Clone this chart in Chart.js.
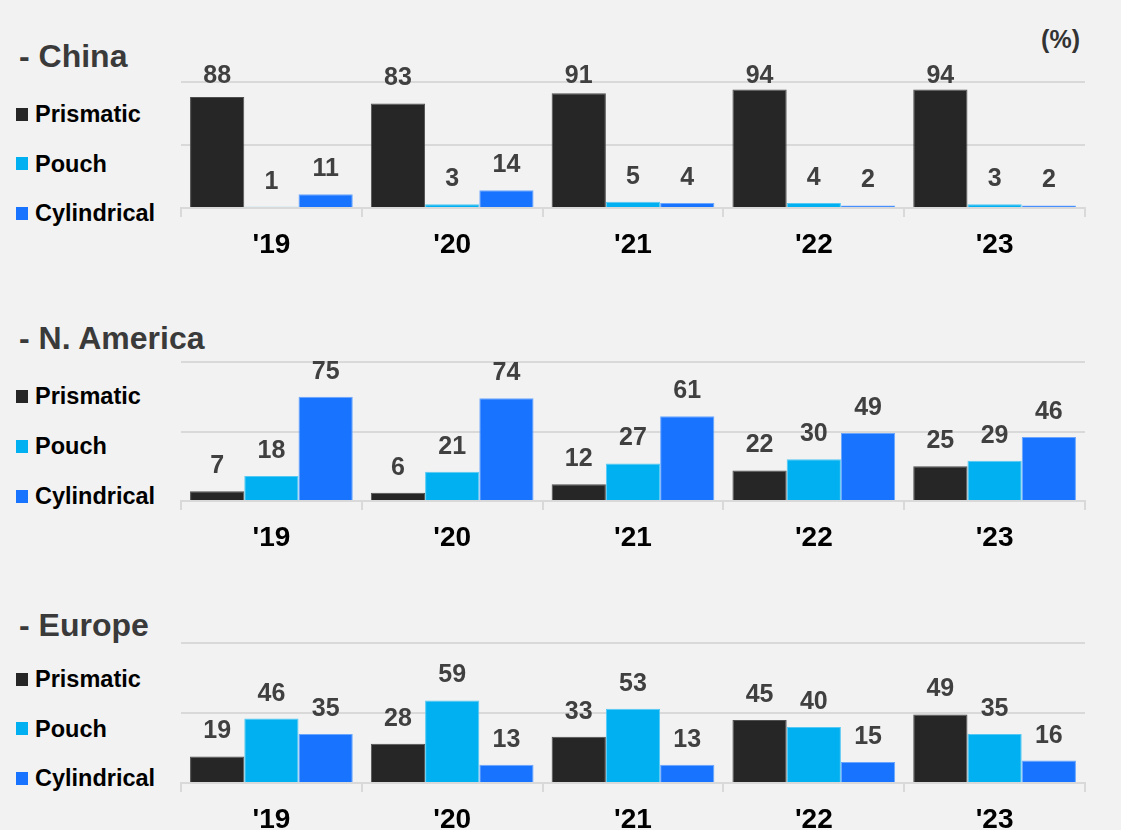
<!DOCTYPE html>
<html>
<head>
<meta charset="utf-8">
<title>Battery cell format share by region</title>
<script src="https://cdn.jsdelivr.net/npm/chart.js@4.4.1/dist/chart.umd.min.js"></script>
<style>
  body { margin: 0; background: #fff; font-family: 'Liberation Sans', Arial, sans-serif; }
  #board { position: relative; width: 1121px; height: 830px; background: #f2f2f2; overflow: hidden; }
  #board canvas { position: absolute; left: 0; }
  .title { position: absolute; left: 19px; font-size: 32px; font-weight: bold; color: #3a3a3a; white-space: pre; }
  .unit { position: absolute; right: 41px; top: 25px; font-size: 25px; font-weight: bold; color: #333; }
  .legend-row { position: absolute; left: 16px; height: 30px; display: flex; align-items: center; }
  .legend-row .box { width: 12px; height: 13px; margin-right: 7px; }
  .legend-row .txt { font-size: 23.5px; font-weight: bold; color: #000; line-height: 30px; }
</style>
</head>
<body>
<div id="board">
  <div class="unit">(%)</div>
</div>
<script>
// categories and series
const years = ["'19", "'20", "'21", "'22", "'23"];
const seriesNames = ['Prismatic', 'Pouch', 'Cylindrical'];

// share by cell format, %
const chinaPrismatic = [88, 83, 91, 94, 94];
const chinaPouch = [1, 3, 5, 4, 3];
const chinaCylindrical = [11, 14, 4, 2, 2];

const naPrismatic = [7, 6, 12, 22, 25];
const naPouch = [18, 21, 27, 30, 29];
const naCylindrical = [75, 74, 61, 49, 46];

const euPrismatic = [19, 28, 33, 45, 49];
const euPouch = [46, 59, 53, 40, 35];
const euCylindrical = [35, 13, 13, 15, 16];

const seriesColors = ['#262626', '#00b0f0', '#1874ff'];
const seriesEdges = ['#4f4f4f', '#55c9f4', '#6aa6ff'];

// one block per region: canvas placement and plot area inside it
const panels = [
  { title: '- China', data: [chinaPrismatic, chinaPouch, chinaCylindrical],
    top: 0, height: 280, areaTop: 82, areaBottom: 208, titleTop: 38,
    legendY: [114, 163.5, 213], labelFloor: 83 },
  { title: '- N. America', data: [naPrismatic, naPouch, naCylindrical],
    top: 290, height: 280, areaTop: 72, areaBottom: 211, titleTop: 320,
    legendY: [396, 446, 496], labelFloor: 0 },
  { title: '- Europe', data: [euPrismatic, euPouch, euCylindrical],
    top: 570, height: 260, areaTop: 73, areaBottom: 213, titleTop: 607,
    legendY: [679, 728.5, 778], labelFloor: 0 }
];

const FONT = "'Liberation Sans', Arial, sans-serif";
Chart.defaults.font.family = FONT;

// value labels above each bar
const barValues = {
  id: 'barValues',
  defaults: { floor: 0 },
  afterDatasetsDraw(chart, args, opts) {
    const ctx = chart.ctx;
    ctx.save();
    ctx.font = 'bold 25px ' + FONT;
    ctx.fillStyle = '#404040';
    ctx.textAlign = 'center';
    ctx.textBaseline = 'alphabetic';
    chart.data.datasets.forEach((ds, i) => {
      chart.getDatasetMeta(i).data.forEach((bar, j) => {
        const y = Math.max(bar.y - 18, opts.floor);
        ctx.fillText(ds.data[j], bar.x, y);
      });
    });
    ctx.restore();
  }
};

const board = document.getElementById('board');
const plotLeft = 181, plotRight = 1085, boardWidth = 1121;

panels.forEach(p => {
  const title = document.createElement('div');
  title.className = 'title';
  title.style.top = p.titleTop + 'px';
  title.textContent = p.title;
  board.appendChild(title);

  seriesNames.forEach((name, i) => {
    const row = document.createElement('div');
    row.className = 'legend-row';
    row.style.top = (p.legendY[i] - 15) + 'px';
    row.innerHTML = '<span class="box" style="background:' + seriesColors[i] + '"></span><span class="txt">' + name + '</span>';
    board.appendChild(row);
  });

  const canvas = document.createElement('canvas');
  canvas.width = boardWidth;
  canvas.height = p.height;
  canvas.style.top = p.top + 'px';
  board.appendChild(canvas);

  new Chart(canvas, {
    type: 'bar',
    data: {
      labels: years,
      datasets: seriesNames.map((name, i) => ({
        label: name,
        data: p.data[i],
        backgroundColor: seriesColors[i],
        borderColor: seriesEdges[i],
        borderWidth: 1,
        categoryPercentage: 0.9,
        barPercentage: 1
      }))
    },
    options: {
      responsive: false,
      animation: false,
      devicePixelRatio: 1,
      layout: { padding: { top: p.areaTop, right: boardWidth - plotRight, left: 0, bottom: 0 } },
      plugins: {
        legend: { display: false },
        tooltip: { enabled: false },
        barValues: { floor: p.labelFloor }
      },
      scales: {
        x: {
          grid: { drawOnChartArea: false, color: '#d9d9d9', lineWidth: 2, tickLength: 9, offset: true },
          border: { color: '#d9d9d9', width: 2 },
          ticks: { color: '#000', padding: 11, font: { size: 28, weight: 'bold' } },
          afterFit(scale) { scale.height = p.height - p.areaBottom; }
        },
        y: {
          min: 0,
          max: 100,
          ticks: { display: false, stepSize: 50 },
          grid: { color: '#d9d9d9', lineWidth: 2, drawTicks: false },
          border: { display: false },
          afterFit(scale) { scale.width = plotLeft; }
        }
      }
    },
    plugins: [barValues]
  });
});
</script>
</body>
</html>
